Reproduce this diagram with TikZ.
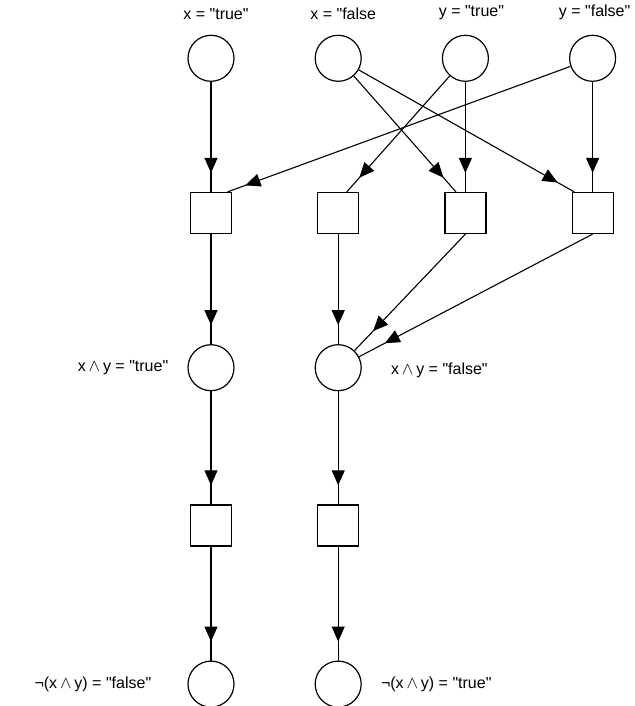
\documentclass[tikz,border=0pt]{standalone}
\usepackage{fontspec}
\setmainfont{Liberation Sans}[Ligatures=TeXOff]
\usetikzlibrary{arrows.meta,positioning,decorations.markings}
\tikzset{
    place/.style={draw, circle, minimum size=46pt, inner sep=0pt, line width=1.2pt},
    trans/.style={draw, rectangle, minimum size=41pt, inner sep=0pt, line width=1.2pt},
    flow/.style={line width=1.1pt, postaction={decorate},
        decoration={markings, mark=at position -#1 with {\arrow{Triangle[length=15pt, width=13pt]}}}},
    flow/.default=19pt,
    lbl/.style={font=\fontsize{16}{19}\selectfont, inner sep=1pt}
}

\begin{document}
\begin{tikzpicture}[x=1pt, y=-1pt, node distance=110pt]
    \useasboundingbox (0,0) rectangle (634,706);
    % first row of transitions
    \node[trans] (t1) at (211,213) {};
    \node[trans, right=85pt of t1] (t2) {};
    \node[trans, right=85pt of t2] (t3) {};
    \node[trans, right=85pt of t3] (t4) {};

    % input places
    \node[place, above=of t1] (xtrue) {};
    \node[place, above=of t2] (xfalse) {};
    \node[place, above=of t3] (ytrue) {};
    \node[place, above=of t4] (yfalse) {};

    % and / not
    \node[place, below=of t1] (andtrue) {};
    \node[place, below=of t2] (andfalse) {};
    \node[trans, below=113pt of andtrue] (t5) {};
    \node[trans, below=113pt of andfalse] (t6) {};
    \node[place, below=114pt of t5] (notfalse) {};
    \node[place, below=114pt of t6] (nottrue) {};

    % labels
    \node[lbl, above=14pt of xtrue, xshift=5pt] (lxtrue) {x = "true"};
    \node[lbl, above=14pt of xfalse, xshift=5pt] (lxfalse) {x = "false};
    \node[lbl, above=14pt of ytrue, xshift=6pt] (lytrue) {y = "true"};
    \node[lbl, above=14pt of yfalse, xshift=2pt] (lyfalse) {y = "false"};
    \node[lbl, left=18pt of andtrue] (landtrue) {x$\,\wedge\,$y = "true"};
    \node[lbl, right=28pt of andfalse, yshift=-3pt] (landfalse) {x$\,\wedge\,$y = "false"};
    \node[lbl, left=35pt of notfalse] (lnotfalse) {¬(x$\,\wedge\,$y) = "false"};
    \node[lbl, right=18pt of nottrue] (lnottrue) {¬(x$\,\wedge\,$y) = "true"};

    \draw[flow] (xtrue) -- (t1);
    \draw[flow] (yfalse) -- (t1.52);
    \draw[flow] (ytrue) -- (t2.68);
    \draw[flow] (xfalse) -- (t3.114);
    \draw[flow] (ytrue) -- (t3);
    \draw[flow] (xfalse) -- (t4.131);
    \draw[flow] (yfalse) -- (t4);
    \draw[flow] (t1) -- (andtrue);
    \draw[flow] (t2) -- (andfalse);
    \draw[flow=27pt] (t3.south) -- (andfalse);
    \draw[flow=29pt] (t4.south) -- (andfalse);
    \draw[flow] (andtrue) -- (t5);
    \draw[flow] (andfalse) -- (t6);
    \draw[flow] (t5) -- (notfalse);
    \draw[flow] (t6) -- (nottrue);
\end{tikzpicture}
\end{document}
